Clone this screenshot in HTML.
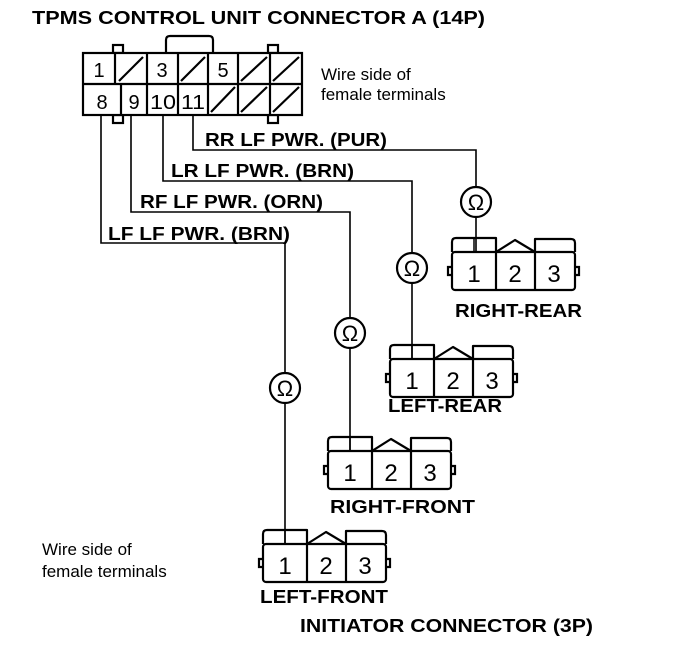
<!DOCTYPE html>
<html><head><meta charset="utf-8"><style>
html,body{margin:0;padding:0;background:#fff;}
svg{display:block;}
text{font-family:"Liberation Sans",sans-serif;fill:#000;}
.b{font-weight:bold;}
</style></head><body>
<svg width="688" height="646" viewBox="0 0 688 646" xmlns="http://www.w3.org/2000/svg">
<defs>
<g id="c3" fill="none" stroke="#000" stroke-width="2.2">
  <path d="M0,14 L0,4 Q0,0 4,0 L44,0 L44,14 M44,14 L63,2 L83,14 M83,14 L83,1 L119,1 Q123,1 123,5 L123,14" stroke-linejoin="round"/>
  <rect x="0" y="14" width="123" height="38" rx="3"/>
  <line x1="44" y1="14" x2="44" y2="52"/>
  <line x1="83" y1="14" x2="83" y2="52"/>
  <path d="M0,29 L-4,29 L-4,37 L0,37 M123,29 L127,29 L127,37 L123,37"/>
  <line x1="22" y1="0" x2="22" y2="14" stroke-width="1.5"/>
</g>
<g id="om">
  <circle cx="0" cy="0" r="15" fill="#fff" stroke="#000" stroke-width="2.2"/>
  <text x="0" y="8" text-anchor="middle" font-size="22">Ω</text>
</g>
</defs>

<text x="32" y="24" class="b" font-size="18" textLength="453" lengthAdjust="spacingAndGlyphs">TPMS CONTROL UNIT CONNECTOR A (14P)</text>

<!-- 14P connector -->
<g fill="none" stroke="#000" stroke-width="2.2">
  <path d="M166,53 L166,40 Q166,36 170,36 L209,36 Q213,36 213,40 L213,53"/>
  <rect x="113" y="45" width="10" height="8"/>
  <rect x="268" y="45" width="10" height="8"/>
  <rect x="113" y="115" width="10" height="8"/>
  <rect x="268" y="115" width="10" height="8"/>
  <rect x="83" y="53" width="219" height="62" fill="#fff"/>
  <line x1="83" y1="84" x2="302" y2="84"/>
  <line x1="115" y1="53" x2="115" y2="84"/>
  <line x1="147" y1="53" x2="147" y2="115"/>
  <line x1="178" y1="53" x2="178" y2="115"/>
  <line x1="208" y1="53" x2="208" y2="115"/>
  <line x1="238" y1="53" x2="238" y2="115"/>
  <line x1="270" y1="53" x2="270" y2="115"/>
  <line x1="121" y1="84" x2="121" y2="115"/>
  <line x1="119" y1="81" x2="143" y2="57"/>
  <line x1="181" y1="81" x2="205" y2="57"/>
  <line x1="241" y1="81" x2="267" y2="57"/>
  <line x1="273" y1="81" x2="299" y2="57"/>
  <line x1="211" y1="112" x2="235" y2="87"/>
  <line x1="241" y1="112" x2="267" y2="87"/>
  <line x1="273" y1="112" x2="299" y2="87"/>
</g>
<g font-size="20" text-anchor="middle">
  <text x="99" y="77">1</text><text x="162" y="77">3</text><text x="223" y="77">5</text>
  <text x="102" y="109">8</text><text x="134" y="109">9</text><text x="163" y="109" textLength="26" lengthAdjust="spacingAndGlyphs">10</text><text x="193" y="109" textLength="24" lengthAdjust="spacingAndGlyphs">11</text>
</g>
<text x="321" y="80" font-size="17">Wire side of</text>
<text x="321" y="100" font-size="17">female terminals</text>

<!-- wires -->
<g fill="none" stroke="#000" stroke-width="1.6">
  <path d="M193,115 L193,150 L476,150 L476,252"/>
  <path d="M163,115 L163,181 L412,181 L412,359"/>
  <path d="M131,115 L131,212 L350,212 L350,451"/>
  <path d="M101,115 L101,243 L285,243 L285,544"/>
</g>
<g class="b" font-size="18">
  <text x="205" y="146" textLength="182" lengthAdjust="spacingAndGlyphs">RR LF PWR. (PUR)</text>
  <text x="171" y="177" textLength="183" lengthAdjust="spacingAndGlyphs">LR LF PWR. (BRN)</text>
  <text x="140" y="208" textLength="183" lengthAdjust="spacingAndGlyphs">RF LF PWR. (ORN)</text>
  <text x="108" y="240" textLength="182" lengthAdjust="spacingAndGlyphs">LF LF PWR. (BRN)</text>
</g>

<use href="#om" x="476" y="202"/>
<use href="#om" x="412" y="268"/>
<use href="#om" x="350" y="333"/>
<use href="#om" x="285" y="388"/>

<!-- 3P connectors -->
<g font-size="24" text-anchor="middle">
  <use href="#c3" x="452" y="238"/>
  <text x="474" y="282">1</text><text x="515" y="282">2</text><text x="554" y="282">3</text>
  <use href="#c3" x="390" y="345"/>
  <text x="412" y="389">1</text><text x="453" y="389">2</text><text x="492" y="389">3</text>
  <use href="#c3" x="328" y="437"/>
  <text x="350" y="481">1</text><text x="391" y="481">2</text><text x="430" y="481">3</text>
  <use href="#c3" x="263" y="530"/>
  <text x="285" y="574">1</text><text x="326" y="574">2</text><text x="365" y="574">3</text>
</g>
<g class="b" font-size="18">
  <text x="455" y="317" textLength="127" lengthAdjust="spacingAndGlyphs">RIGHT-REAR</text>
  <text x="388" y="412" textLength="114" lengthAdjust="spacingAndGlyphs">LEFT-REAR</text>
  <text x="330" y="513" textLength="145" lengthAdjust="spacingAndGlyphs">RIGHT-FRONT</text>
  <text x="260" y="603" textLength="128" lengthAdjust="spacingAndGlyphs">LEFT-FRONT</text>
  <text x="300" y="632" textLength="293" lengthAdjust="spacingAndGlyphs">INITIATOR CONNECTOR (3P)</text>
</g>
<text x="42" y="555" font-size="17">Wire side of</text>
<text x="42" y="577" font-size="17">female terminals</text>
</svg>
</body></html>
